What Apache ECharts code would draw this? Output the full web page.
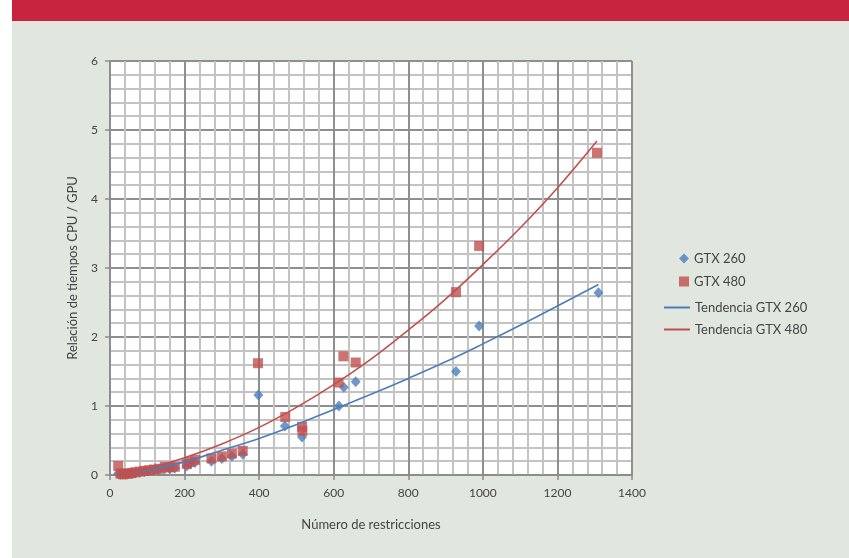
<!DOCTYPE html>
<html>
<head>
<meta charset="utf-8">
<script src="https://cdn.jsdelivr.net/npm/echarts@6/dist/echarts.min.js"></script>
<style>
html,body{margin:0;padding:0;background:#ffffff;width:849px;height:558px;overflow:hidden;}
#chart{position:absolute;left:12px;top:0;width:837px;height:558px;}
</style>
</head>
<body>
<div id="chart"></div>
<script>
// Series names
const seriesNames = ['GTX 260', 'GTX 480', 'Tendencia GTX 260', 'Tendencia GTX 480'];
const xAxisTitle = 'Número de restricciones';
const yAxisTitle = 'Relación de tiempos CPU / GPU';

// GTX 260 points [restricciones, relación]
const gtx260 = [
  [22,0.02],[28,0.01],[35,0.01],[42,0.01],[50,0.02],[58,0.02],[68,0.03],[80,0.04],
  [92,0.05],[105,0.06],[118,0.07],[132,0.08],[147,0.09],[160,0.09],[174,0.10],
  [206,0.13],[215,0.16],[228,0.18],[272,0.20],[300,0.24],[327,0.27],[356,0.30],
  [398,1.16],[469,0.71],[515,0.55],[614,1.00],[627,1.27],[659,1.35],[928,1.50],
  [990,2.16],[1310,2.64]
];
// GTX 480 points
const gtx480 = [
  [22,0.13],[28,0.02],[35,0.01],[42,0.02],[50,0.02],[58,0.03],[68,0.04],[80,0.05],
  [92,0.06],[105,0.07],[118,0.08],[132,0.09],[147,0.12],[160,0.11],[174,0.12],
  [206,0.16],[215,0.19],[228,0.22],[272,0.24],[300,0.27],[327,0.31],[356,0.35],
  [397,1.62],[470,0.84],[515,0.70],[516,0.64],[613,1.34],[626,1.72],[659,1.63],
  [928,2.65],[990,3.32],[1306,4.67]
];
// Trend lines
const trend260 = [
  [25,0.01],[100,0.07],[200,0.19],[300,0.36],[400,0.53],[500,0.73],[600,0.95],
  [700,1.17],[800,1.40],[900,1.64],[1000,1.90],[1100,2.17],[1200,2.45],[1310,2.76]
];
const trend480 = [
  [25,0.00],[100,0.09],[200,0.25],[300,0.45],[400,0.69],[500,0.98],[600,1.31],
  [700,1.68],[800,2.10],[900,2.55],[1000,3.05],[1100,3.58],[1200,4.16],[1306,4.84]
];

const xMin = 0, xMax = 1400, xStep = 200;
const yMin = 0, yMax = 6, yStep = 1;

const FONT = 'Lato, "Open Sans", sans-serif';
const BLUE = '#4a7ebb';
const RED = '#c0504d';

const chart = echarts.init(document.getElementById('chart'));
chart.setOption({
  backgroundColor: '#e1e6df',
  animation: false,
  textStyle: { fontFamily: FONT },
  graphic: [
    { type: 'rect', left: 0, top: 0, shape: { width: 837, height: 21 }, style: { fill: '#c9243f' }, z: 10 }
  ],
  grid: {
    left: 98, right: 217, top: 61, bottom: 83,
    show: true, backgroundColor: '#ffffff', borderWidth: 0
  },
  legend: [
    {
      data: [
        { name: seriesNames[0], icon: 'diamond' },
        { name: seriesNames[1], icon: 'rect' }
      ],
      orient: 'vertical', left: 662, top: 247,
      itemWidth: 10, itemHeight: 10, itemGap: 10,
      textStyle: { fontFamily: FONT, fontSize: 13, color: '#444' }
    },
    {
      data: [
        { name: seriesNames[2], icon: 'rect' },
        { name: seriesNames[3], icon: 'rect' }
      ],
      orient: 'vertical', left: 647, top: 296,
      itemWidth: 26, itemHeight: 2, itemGap: 9,
      textStyle: { fontFamily: FONT, fontSize: 13, color: '#444' }
    }
  ],
  xAxis: {
    type: 'value', min: xMin, max: xMax, interval: xStep,
    name: xAxisTitle, nameLocation: 'middle', nameGap: 43,
    nameTextStyle: { fontFamily: FONT, fontSize: 13, color: '#444' },
    axisLine: { show: true, lineStyle: { color: '#8c8c8c', width: 1.5 } },
    axisTick: { show: true, length: 5, inside: false, lineStyle: { color: '#8c8c8c', width: 1.5 } },
    axisLabel: { margin: 12, fontFamily: FONT, fontSize: 12, color: '#444', formatter: function (v) { return String(v); } },
    splitLine: { show: true, lineStyle: { color: '#8f8f8f', width: 2 } },
    minorTick: { show: false, splitNumber: 5 },
    minorSplitLine: { show: true, lineStyle: { color: '#c3c3c3', width: 2 } }
  },
  yAxis: {
    type: 'value', min: yMin, max: yMax, interval: yStep,
    name: yAxisTitle, nameLocation: 'middle', nameGap: 31, nameRotate: 90,
    nameTextStyle: { fontFamily: FONT, fontSize: 13, color: '#444' },
    axisLine: { show: true, lineStyle: { color: '#8c8c8c', width: 1.5 } },
    axisTick: { show: true, length: 5, inside: false, lineStyle: { color: '#8c8c8c', width: 1.5 } },
    axisLabel: { margin: 12, fontFamily: FONT, fontSize: 12, color: '#444' },
    splitLine: { show: true, lineStyle: { color: '#8f8f8f', width: 2 } },
    minorTick: { show: false, splitNumber: 5 },
    minorSplitLine: { show: true, lineStyle: { color: '#c3c3c3', width: 2 } }
  },
  series: [
    {
      name: seriesNames[0], type: 'scatter', data: gtx260,
      symbol: 'diamond', symbolSize: [10, 11],
      itemStyle: { color: BLUE }, z: 2
    },
    {
      name: seriesNames[1], type: 'scatter', data: gtx480,
      symbol: 'rect', symbolSize: 10,
      itemStyle: { color: RED }, z: 3
    },
    {
      name: seriesNames[2], type: 'line', data: trend260, smooth: 0.4,
      showSymbol: false, symbol: 'none',
      lineStyle: { color: BLUE, width: 1.6 }, itemStyle: { color: BLUE }, z: 4
    },
    {
      name: seriesNames[3], type: 'line', data: trend480, smooth: 0.4,
      showSymbol: false, symbol: 'none',
      lineStyle: { color: RED, width: 1.6 }, itemStyle: { color: RED }, z: 4
    }
  ]
});
</script>
</body>
</html>
